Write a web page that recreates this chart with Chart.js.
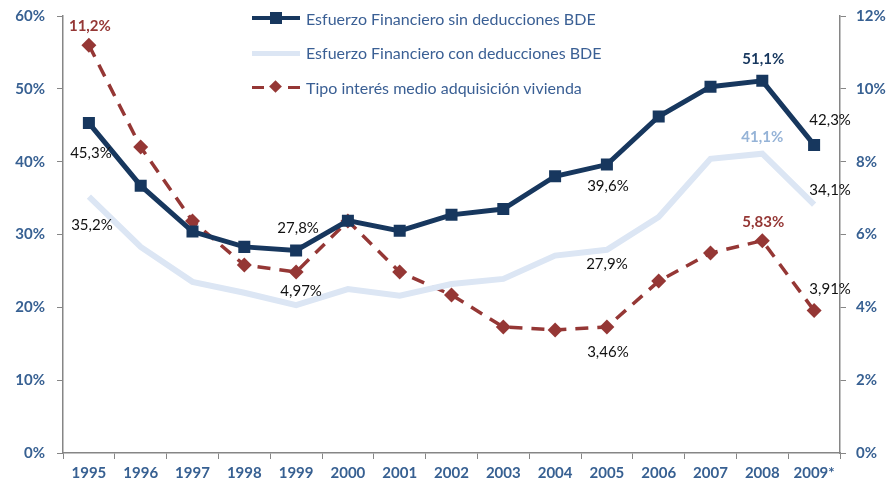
<!DOCTYPE html>
<html>
<head>
<meta charset="utf-8">
<script src="https://cdn.jsdelivr.net/npm/chart.js@4/dist/chart.umd.min.js"></script>
<style>
  html, body { margin: 0; padding: 0; background: #fff; }
  #wrap { position: relative; width: 887px; height: 492px; }
  #legend { position: absolute; left: 252px; top: 1px; font-family: Lato, 'Open Sans', sans-serif; font-size: 16px; color: #3a5f94; }
  .item { display: flex; align-items: center; height: 34.5px; }
  .sym { position: relative; width: 48px; height: 14px; margin-right: 6px; }
  .sym .ln { position: absolute; left: 0; right: 0; top: 50%; }
</style>
</head>
<body>
<div id="wrap">
  <canvas id="chart" width="887" height="492"></canvas>
  <div id="legend">
    <div class="item"><div class="sym"><div class="ln" style="border-top:4px solid #17375e;margin-top:-2px"></div><div style="position:absolute;left:18px;top:1px;width:12px;height:12px;background:#17375e"></div></div>Esfuerzo Financiero sin deducciones BDE</div>
    <div class="item"><div class="sym"><div class="ln" style="border-top:5px solid #dce6f4;margin-top:-2px"></div></div>Esfuerzo Financiero con deducciones BDE</div>
    <div class="item"><div class="sym"><div class="ln" style="border-top:3px dashed #953735;margin-top:-1px;left:0;width:12px"></div><div class="ln" style="border-top:3px solid #953735;margin-top:-1px;left:36px;width:12px"></div><div style="position:absolute;left:19px;top:2px;width:9px;height:9px;background:#953735;transform:rotate(45deg)"></div></div>Tipo interés medio adquisición vivienda</div>
  </div>
</div>
<script>
// ----- data -----
const years = ['1995', '1996', '1997', '1998', '1999', '2000', '2001', '2002', '2003', '2004', '2005', '2006', '2007', '2008', '2009*'];
const sinDeducciones = [45.3, 36.7, 30.4, 28.3, 27.8, 31.9, 30.5, 32.7, 33.5, 38.0, 39.6, 46.2, 50.3, 51.1, 42.3];
const conDeducciones = [35.2, 28.3, 23.5, 22.0, 20.3, 22.5, 21.6, 23.2, 23.9, 27.1, 27.9, 32.4, 40.4, 41.1, 34.1];
const tipoInteres = [11.2, 8.40, 6.37, 5.16, 4.97, 6.37, 4.97, 4.34, 3.46, 3.38, 3.46, 4.72, 5.49, 5.83, 3.91];
const leftTicks = [0, 10, 20, 30, 40, 50, 60];
const rightTicks = [0, 2, 4, 6, 8, 10, 12];

// which points get a value label: [dataset, index, dx, dy, bold]
const valueLabels = [
  [0, 0, 2, 30, false], [0, 4, 2, -22, false], [0, 10, 1, 22, false], [0, 13, 1, -22, true], [0, 14, 16, -25, false],
  [1, 0, 3, 29, false], [1, 10, 0, 14, false], [1, 13, 0, -16, true], [1, 14, 16, -14, false],
  [2, 0, 1, -19, true], [2, 4, 5, 19, false], [2, 10, 1, 25, false], [2, 13, 1, -19, true], [2, 14, 16, -21, false]
];

const fmt = (v, ds) => {
  const dec = ds === 2 && v < 10 ? 2 : 1;
  return v.toFixed(dec).replace('.', ',') + '%';
};

// labels on the points
const labelPlugin = {
  id: 'valueLabels',
  afterDatasetsDraw(chart) {
    const ctx = chart.ctx;
    ctx.save();
    ctx.textAlign = 'center';
    ctx.textBaseline = 'middle';
    valueLabels.forEach(([ds, i, dx, dy, bold]) => {
      const pt = chart.getDatasetMeta(ds).data[i];
      const v = chart.data.datasets[ds].data[i];
      ctx.font = (bold ? 'bold ' : '') + '15px Lato, "Open Sans", sans-serif';
      ctx.fillStyle = bold ? chart.data.datasets[ds].labelColor : '#111';
      ctx.fillText(fmt(v, ds), pt.x + dx, pt.y + dy);
    });
    ctx.restore();
  }
};

const axisColor = '#868686';
const tickFont = { family: 'Lato, "Open Sans", sans-serif', size: 15, weight: 'bold' };

// fixed axis box sizes so the plot area sits where the original one does
const fitY = (w) => (s) => { s.width = w; s.paddingTop = 0; s.paddingBottom = 0; };

new Chart(document.getElementById('chart').getContext('2d'), {
  type: 'line',
  data: {
    labels: years,
    datasets: [
      {
        label: 'Esfuerzo Financiero sin deducciones BDE',
        data: sinDeducciones,
        yAxisID: 'y',
        borderColor: '#17375e',
        backgroundColor: '#17375e',
        labelColor: '#17375e',
        borderWidth: 5,
        pointStyle: 'rect',
        pointRadius: 8.5,
        pointBorderWidth: 0,
        tension: 0
      },
      {
        label: 'Esfuerzo Financiero con deducciones BDE',
        data: conDeducciones,
        yAxisID: 'y',
        borderColor: '#dce6f4',
        backgroundColor: '#dce6f4',
        labelColor: '#95b3d7',
        borderWidth: 6,
        pointRadius: 0,
        tension: 0
      },
      {
        label: 'Tipo interés medio adquisición vivienda',
        data: tipoInteres,
        yAxisID: 'y1',
        borderColor: '#953735',
        backgroundColor: '#953735',
        labelColor: '#953735',
        borderWidth: 3.5,
        borderDash: [13, 9],
        pointStyle: 'rectRot',
        pointRadius: 7.5,
        pointBorderWidth: 0,
        tension: 0
      }
    ]
  },
  options: {
    responsive: false,
    animation: false,
    layout: { padding: { top: 16, left: 0, right: 0, bottom: 0 } },
    plugins: { legend: { display: false }, tooltip: { enabled: false } },
    scales: {
      x: {
        offset: true,
        grid: { offset: true, drawOnChartArea: false, drawTicks: true, tickLength: 6, color: axisColor },
        border: { color: axisColor, width: 1.5 },
        ticks: { color: '#376092', font: tickFont, padding: 5, maxRotation: 0, autoSkip: false },
        afterFit: (s) => { s.height = 39; }
      },
      y: {
        position: 'left',
        min: 0, max: 60,
        afterBuildTicks: (s) => { s.ticks = leftTicks.map(v => ({ value: v })); },
        grid: { drawOnChartArea: false, tickLength: 6, color: axisColor },
        border: { color: axisColor, width: 1.5 },
        ticks: { color: '#376092', font: tickFont, padding: 12, callback: (v) => v + '%' },
        afterFit: fitY(63)
      },
      y1: {
        position: 'right',
        min: 0, max: 12,
        afterBuildTicks: (s) => { s.ticks = rightTicks.map(v => ({ value: v })); },
        grid: { drawOnChartArea: false, tickLength: 6, color: axisColor },
        border: { color: axisColor, width: 1.5 },
        ticks: { color: '#376092', font: tickFont, padding: 10, callback: (v) => v + '%' },
        afterFit: fitY(47)
      }
    }
  },
  plugins: [labelPlugin]
});
</script>
</body>
</html>
